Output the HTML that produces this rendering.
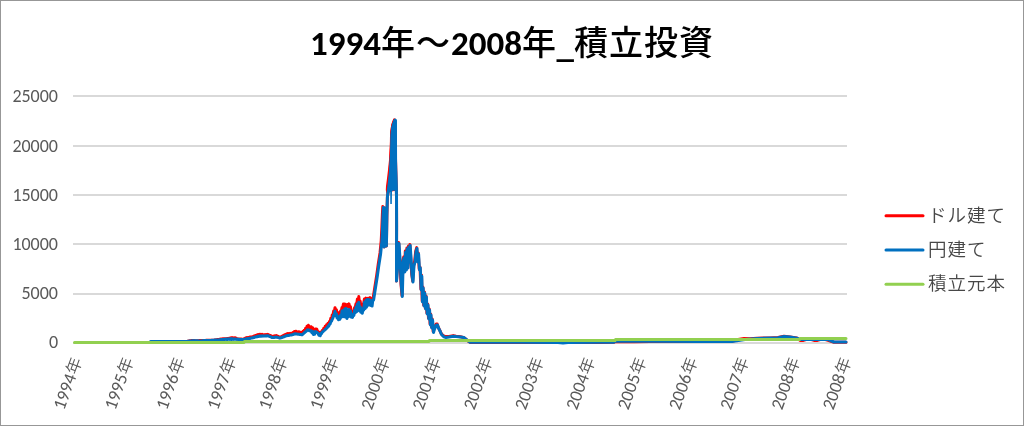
<!DOCTYPE html>
<html><head><meta charset="utf-8"><style>
html,body{margin:0;padding:0;background:#fff;}
body{width:1024px;height:426px;overflow:hidden;}
svg{display:block;}
.t{font-family:Carlito,"Liberation Sans","Noto Sans CJK JP",sans-serif;}
.ttl{font-weight:bold;font-size:35px;fill:#000;}
.yl{font-size:18px;fill:#595959;}
.xl{font-size:18px;fill:#595959;}
.lg{font-size:18px;fill:#595959;}
.cj{font-weight:500;font-size:34px;letter-spacing:1px;}
.xk{font-weight:350;font-size:16.5px;}
.lgt{font-family:"Noto Sans CJK JP",sans-serif;font-size:18.5px;letter-spacing:1px;font-weight:350;fill:#474747;}
</style></head><body>
<svg width="1024" height="426" viewBox="0 0 1024 426">
<rect x="0.5" y="0.5" width="1023" height="425" fill="#fff" stroke="#979797" stroke-width="1"/>
<text class="t ttl" x="512" y="55" text-anchor="middle">1994<tspan class="cj">年～</tspan>2008<tspan class="cj">年</tspan><tspan dy="1.5" dx="-0.5">_</tspan><tspan class="cj" dy="-1.5">積立投資</tspan></text>
<g stroke="#d9d9d9" stroke-width="2">
<line x1="73" y1="96" x2="847" y2="96"/>
<line x1="73" y1="146" x2="847" y2="146"/>
<line x1="73" y1="195" x2="847" y2="195"/>
<line x1="73" y1="244" x2="847" y2="244"/>
<line x1="73" y1="294" x2="847" y2="294"/>
<line x1="73" y1="343" x2="847" y2="343"/>
</g>
<!--LINES-->
<g fill="none" stroke-width="3.0" stroke-linejoin="round" stroke-linecap="round">
<polyline stroke="#ff0000" points="152.0,341.6 187.0,341.6 188.0,341.2 188.7,341.1 189.4,341.0 190.1,340.8 190.8,340.7 191.5,340.6 192.2,340.5 192.9,340.4 193.6,340.4 194.3,340.6 195.0,340.7 195.7,340.8 196.4,340.8 197.1,340.8 197.8,340.7 198.5,340.7 199.2,340.6 199.9,340.6 200.6,340.6 201.3,340.5 202.0,340.5 202.7,340.5 203.4,340.4 204.1,340.4 204.8,340.4 205.5,340.4 206.2,340.3 206.9,340.3 207.6,340.3 208.3,340.3 209.0,340.3 209.7,340.3 210.4,340.3 211.1,340.3 211.8,340.3 212.5,340.3 213.2,340.3 213.9,340.2 214.6,340.0 215.3,339.9 216.0,339.8 216.7,339.7 217.4,339.6 218.1,339.5 218.8,339.4 219.5,339.3 220.2,339.2 220.9,339.1 221.6,339.0 222.3,339.0 223.0,338.8 223.7,338.8 224.4,338.8 225.1,338.7 225.8,338.7 226.5,338.7 227.2,338.6 227.9,338.6 228.6,338.5 229.3,338.3 230.0,338.1 230.7,338.0 231.4,337.8 232.1,338.0 232.8,337.7 233.5,338.2 234.2,337.7 234.9,338.3 235.6,337.8 236.3,338.4 237.0,338.8 237.7,338.9 238.4,338.9 239.1,339.0 239.8,339.0 240.5,339.1 241.2,339.1 241.9,339.2 242.6,339.3 243.3,339.2 244.0,338.8 244.7,338.7 245.4,338.0 246.1,338.2 246.8,337.6 247.5,338.1 248.2,337.5 248.9,337.8 249.6,337.1 250.3,337.5 251.0,336.9 251.7,337.4 252.4,336.7 253.1,336.9 253.8,336.1 254.5,336.6 255.2,335.6 255.9,336.0 256.6,335.1 257.3,335.7 258.0,334.6 258.7,335.5 259.4,334.3 260.1,335.3 260.8,334.3 261.5,335.2 262.2,334.4 262.9,335.4 263.6,334.7 264.3,335.2 265.0,334.5 265.7,335.2 266.4,334.5 267.1,335.0 267.8,334.3 268.5,335.0 269.2,334.9 269.9,335.8 270.6,335.6 271.3,336.7 272.0,336.3 272.7,337.0 273.4,336.2 274.1,336.8 274.8,335.8 275.5,336.5 276.2,335.5 276.9,336.7 277.6,336.0 278.3,337.1 279.0,336.7 279.7,337.7 280.4,336.9 281.1,337.1 281.8,336.3 282.5,336.6 283.2,335.6 283.9,336.0 284.6,334.7 285.3,335.4 286.0,334.2 286.7,334.9 287.4,333.6 288.1,334.9 288.8,333.6 289.5,334.8 290.2,333.4 290.9,334.3 291.6,333.4 292.3,334.1 293.0,332.6 293.7,333.6 294.4,331.5 295.1,333.4 295.8,331.2 296.5,333.1 297.2,331.8 297.9,333.2 298.6,331.7 299.3,333.6 300.0,332.2 300.7,333.8 301.4,332.5 302.1,333.9 302.8,331.6 303.5,332.6 304.2,330.2 304.9,330.9 305.6,328.3 306.3,329.5 307.0,326.3 307.7,327.7 308.4,325.3 309.1,328.7 309.8,326.7 310.5,329.2 311.2,326.8 311.9,329.9 312.6,327.7 313.3,330.8 314.0,329.5 314.7,331.1 315.4,329.0 316.1,331.0 316.8,329.1 317.5,331.9 318.2,331.6 318.9,333.2 319.6,333.5 320.3,333.1 321.0,331.9 321.7,331.8 322.4,330.3 323.1,330.4 323.8,328.3 324.5,329.1 325.2,326.3 325.9,327.9 326.6,324.8 327.3,326.4 328.0,323.3 328.7,324.2 329.4,321.6 330.1,321.7 330.8,318.2 331.5,320.0 332.2,315.0 332.9,316.0 333.6,311.1 334.3,312.0 335.0,307.7 335.7,310.8 336.4,309.7 337.1,313.3 337.8,312.5 338.5,315.9 339.2,313.9 339.9,314.6 340.6,311.0 341.3,311.1 342.0,307.5 342.7,308.3 343.4,304.1 344.1,307.3 344.8,303.9 345.5,307.1 346.2,304.7 346.9,306.8 347.6,304.5 348.3,306.7 349.0,303.9 349.7,307.4 350.4,306.6 351.1,311.1 351.8,311.2 352.5,314.6 353.2,312.1 353.9,311.2 354.6,307.6 355.3,307.0 356.0,303.7 356.7,304.2 357.4,298.9 358.1,301.8 358.8,296.6 359.5,302.9 360.2,301.2 360.9,306.4 361.6,305.3 362.3,310.0 363.0,304.5 363.7,303.2 364.4,299.1 365.1,299.2 365.8,298.2 366.5,298.9 367.2,298.3 367.9,299.0 368.6,298.3 369.3,298.4 370.0,297.6 370.7,299.5 371.4,300.1 372.1,300.7 372.8,298.1 373.0,299.0 374.7,288.0 376.6,276.0 378.2,264.5 380.0,253.0 381.2,241.0 381.8,229.0 382.4,214.0 382.8,206.5 384.1,247.0 384.7,208.0 385.3,246.0 385.9,209.0 386.4,246.0 386.9,215.0 387.4,197.0 388.3,190.5 389.7,175.5 390.5,164.5 391.3,147.5 391.5,134.5 392.8,124.5 394.5,119.8 395.6,162.0 396.5,195.0 396.6,226.0 396.5,260.0 396.5,281.0 397.7,261.1 398.7,242.6 399.9,261.1 401.0,284.1 402.0,295.6 402.9,261.1 403.7,257.1 404.5,271.1 405.3,251.1 406.1,269.1 406.9,248.1 407.7,267.1 408.5,246.1 409.3,261.1 409.9,244.6 410.7,257.1 411.7,274.1 412.7,281.1 413.7,265.1 414.7,261.1 415.7,251.1 416.7,247.6 417.5,261.1 418.3,253.1 419.2,269.1 420.0,267.1 420.9,289.1 421.5,275.1 422.2,301.1 422.9,287.1 423.7,305.1 424.5,292.1 425.3,308.1 426.1,296.1 426.9,313.1 427.7,304.1 428.5,318.1 429.3,309.1 430.1,324.1 430.7,314.1 431.5,327.1 432.3,319.1 433.2,331.6 434.2,328.1 435.2,326.1 436.2,324.1 437.2,324.1 438.2,327.1 439.2,329.1 440.2,331.1 441.2,333.6 442.2,334.6 443.7,335.9 445.7,336.6 449.0,336.5 453.3,335.6 456.0,336.2 460.5,336.8 464.0,337.6 467.0,340.2 470.0,342.4 600.0,342.5 614.0,342.3 615.0,341.5 634.0,341.8 650.0,341.5 700.0,341.6 732.0,341.4 738.0,339.5 744.0,338.6 750.0,338.7 757.0,338.2 770.0,337.9 778.0,337.5 784.0,336.2 790.0,336.9 797.0,338.1 800.0,340.4 803.5,340.4 807.0,339.4 810.5,339.4 814.0,340.4 817.5,340.4 821.0,339.4 824.5,339.4 828.0,340.3 834.0,342.3 846.0,342.3"/>
<polygon fill="#ff0000" stroke="none" points="393.5,119.2 392.3,122.0 391.0,126.5 390.3,131.0 389.9,145.0 389.0,160.0 388.0,170.0 386.8,180.0 386.0,186.0 385.8,190.0 386.3,193.0 390.0,192.0 394.0,191.0 396.0,191.0 396.0,119.0"/>
<polyline stroke="#0070c0" points="150.5,341.4 187.0,341.4 188.0,341.2 188.7,341.2 189.4,341.1 190.1,341.1 190.8,341.0 191.5,341.0 192.2,340.8 192.9,341.0 193.6,340.7 194.3,341.0 195.0,340.7 195.7,341.0 196.4,340.8 197.1,341.0 197.8,340.8 198.5,341.0 199.2,340.9 199.9,341.0 200.6,340.9 201.3,340.9 202.0,340.8 202.7,340.8 203.4,340.7 204.1,340.6 204.8,340.6 205.5,340.6 206.2,340.6 206.9,340.6 207.6,340.6 208.3,340.5 209.0,340.5 209.7,340.5 210.4,340.5 211.1,340.4 211.8,340.3 212.5,340.2 213.2,340.2 213.9,340.2 214.6,340.1 215.3,340.1 216.0,340.1 216.7,340.1 217.4,340.0 218.1,339.9 218.8,339.9 219.5,339.8 220.2,339.7 220.9,339.7 221.6,339.6 222.3,339.6 223.0,339.4 223.7,339.5 224.4,339.3 225.1,339.4 225.8,339.1 226.5,339.4 227.2,339.0 227.9,339.4 228.6,338.9 229.3,339.4 230.0,338.8 230.7,339.4 231.4,338.7 232.1,339.4 232.8,338.8 233.5,339.4 234.2,338.9 234.9,339.3 235.6,338.9 236.3,339.4 237.0,339.1 237.7,339.4 238.4,339.3 239.1,339.5 239.8,339.4 240.5,339.5 241.2,339.5 241.9,339.6 242.6,339.6 243.3,339.6 244.0,339.4 244.7,339.2 245.4,339.1 246.1,339.0 246.8,338.7 247.5,338.8 248.2,338.5 248.9,338.5 249.6,338.3 250.3,338.4 251.0,338.1 251.7,338.1 252.4,337.8 253.1,337.8 253.8,337.3 254.5,337.4 255.2,336.9 255.9,337.0 256.6,336.6 257.3,336.7 258.0,336.2 258.7,336.4 259.4,336.0 260.1,336.2 260.8,336.0 261.5,336.2 262.2,335.9 262.9,336.2 263.6,335.9 264.3,336.1 265.0,335.9 265.7,336.0 266.4,335.8 267.1,335.9 267.8,335.7 268.5,336.0 269.2,336.2 269.9,336.6 270.6,336.8 271.3,337.2 272.0,337.5 272.7,337.6 273.4,337.5 274.1,337.4 274.8,337.3 275.5,337.2 276.2,337.1 276.9,337.2 277.6,337.4 278.3,337.6 279.0,337.8 279.7,338.0 280.4,337.9 281.1,337.7 281.8,337.5 282.5,337.3 283.2,336.9 283.9,336.9 284.6,336.3 285.3,336.3 286.0,335.7 286.7,335.7 287.4,335.5 288.1,335.5 288.8,335.4 289.5,335.2 290.2,335.1 290.9,335.0 291.6,334.9 292.3,334.7 293.0,334.5 293.7,334.2 294.4,334.0 295.1,333.8 295.8,333.9 296.5,334.0 297.2,334.1 297.9,334.2 298.6,334.3 299.3,334.3 300.0,334.5 300.7,334.6 301.4,334.7 302.1,334.8 302.8,334.2 303.5,333.6 304.2,332.8 304.9,332.4 305.6,331.4 306.3,331.4 307.0,330.1 307.7,330.2 308.4,329.8 309.1,330.7 309.8,330.3 310.5,331.2 311.2,330.9 311.9,332.7 312.6,331.7 313.3,334.5 314.0,331.9 314.7,334.2 315.4,331.6 316.1,332.0 316.8,332.2 317.5,332.8 318.2,333.6 318.9,335.3 319.6,334.9 320.3,335.6 321.0,333.2 321.7,333.5 322.4,331.9 323.1,331.6 323.8,330.7 324.5,330.3 325.2,329.5 325.9,329.0 326.6,328.2 327.3,327.6 328.0,326.1 328.7,326.2 329.4,324.4 330.1,324.0 330.8,321.9 331.5,321.1 332.2,319.4 332.9,318.0 333.6,315.1 334.3,314.8 335.0,311.3 335.7,315.7 336.4,313.8 337.1,317.9 337.8,316.3 338.5,319.8 339.2,317.0 339.9,319.2 340.6,315.0 341.3,317.3 342.0,311.1 342.7,316.6 343.4,310.6 344.1,316.8 344.8,309.0 345.5,317.1 346.2,308.4 346.9,318.5 347.6,310.6 348.3,316.8 349.0,309.5 349.7,316.1 350.4,310.9 351.1,317.0 351.8,314.4 352.5,317.4 353.2,314.0 353.9,315.4 354.6,310.3 355.3,312.9 356.0,306.9 356.7,311.6 357.4,304.0 358.1,309.1 358.8,302.2 359.5,310.9 360.2,306.7 360.9,312.2 361.6,309.9 362.3,313.3 363.0,308.5 363.7,310.2 364.4,302.3 365.1,308.6 365.8,300.4 366.5,307.2 367.2,299.5 367.9,305.2 368.6,299.6 369.3,305.0 370.0,299.9 370.7,305.4 371.4,302.1 372.1,306.1 372.8,300.0 373.6,300.0 375.3,289.0 377.2,277.0 378.8,265.5 380.6,254.0 381.8,242.0 382.4,230.0 383.0,215.0 383.4,207.5 384.1,247.0 384.7,208.0 385.3,246.0 385.9,209.0 386.4,246.0 386.9,215.0 387.4,197.0 388.3,190.5 390.2,176.0 391.0,165.0 391.8,148.0 392.0,135.0 393.3,125.0 395.0,120.3 395.4,121.0 395.6,162.0 396.5,195.0 396.6,226.0 396.5,260.0 396.5,281.0 398.0,262.0 399.0,243.5 400.2,262.0 401.3,285.0 402.3,296.5 403.2,262.0 404.0,258.0 404.8,272.0 405.6,252.0 406.4,270.0 407.2,249.0 408.0,268.0 408.8,247.0 409.6,262.0 410.2,245.5 411.0,258.0 412.0,275.0 413.0,282.0 414.0,266.0 415.0,262.0 416.0,252.0 417.0,248.5 417.8,262.0 418.6,254.0 419.5,270.0 420.3,268.0 421.2,290.0 421.8,276.0 422.5,302.0 423.2,288.0 424.0,306.0 424.8,293.0 425.6,309.0 426.4,297.0 427.2,314.0 428.0,305.0 428.8,319.0 429.6,310.0 430.4,325.0 431.0,315.0 431.8,328.0 432.6,320.0 433.5,332.5 434.5,329.0 435.5,327.0 436.5,325.0 437.5,325.0 438.5,328.0 439.5,330.0 440.5,332.0 441.5,334.5 442.5,335.5 444.0,336.8 446.0,337.5 449.0,337.0 453.3,336.2 456.0,336.6 460.5,337.0 464.0,337.6 467.0,340.0 470.0,342.2 480.0,342.3 520.0,342.3 558.0,342.4 563.0,343.0 568.0,342.4 600.0,342.3 614.0,342.2 615.0,341.3 650.0,341.3 700.0,341.4 720.0,341.6 732.0,341.4 745.0,339.6 757.0,338.4 770.0,338.1 778.0,337.8 784.0,336.4 790.0,337.0 797.0,338.2 800.0,339.6 815.0,339.5 828.0,339.6 834.0,342.0 846.0,342.0"/>
<polygon fill="#0070c0" stroke="none" points="394.0,119.5 393.0,122.0 391.5,126.5 390.8,131.0 390.4,145.0 389.7,160.0 389.0,172.0 388.3,184.0 387.6,189.0 386.8,192.0 386.8,197.0 388.2,197.0 389.4,192.0 390.2,192.0 390.3,204.0 391.8,204.0 392.0,191.0 394.3,190.5 395.5,192.0 397.6,192.0 397.4,185.0 396.8,162.0 396.8,120.0 396.2,119.0 395.2,118.6"/>
<polyline stroke="#92d050" points="74.5,342.4 244.0,342.4 244.5,341.5 429.0,341.5 429.5,340.6 615.0,340.6 615.5,339.5 799.6,339.5 800.1,338.6 846.0,338.6"/>
</g>
<!--/LINES-->
<g class="t yl" text-anchor="end">
<text x="58" y="102">25000</text>
<text x="58" y="151.5">20000</text>
<text x="58" y="201">15000</text>
<text x="58" y="249.6">10000</text>
<text x="58" y="298.8">5000</text>
<text x="58" y="348.3">0</text>
</g>
<g class="t xl" text-anchor="end">
<text transform="translate(82.5,360) rotate(-70)">1994<tspan class="xk" dx="1">年</tspan></text>
<text transform="translate(133.8,360) rotate(-70)">1995<tspan class="xk" dx="1">年</tspan></text>
<text transform="translate(185.1,360) rotate(-70)">1996<tspan class="xk" dx="1">年</tspan></text>
<text transform="translate(236.3,360) rotate(-70)">1997<tspan class="xk" dx="1">年</tspan></text>
<text transform="translate(287.6,360) rotate(-70)">1998<tspan class="xk" dx="1">年</tspan></text>
<text transform="translate(338.9,360) rotate(-70)">1999<tspan class="xk" dx="1">年</tspan></text>
<text transform="translate(390.2,360) rotate(-70)">2000<tspan class="xk" dx="1">年</tspan></text>
<text transform="translate(441.5,360) rotate(-70)">2001<tspan class="xk" dx="1">年</tspan></text>
<text transform="translate(492.7,360) rotate(-70)">2002<tspan class="xk" dx="1">年</tspan></text>
<text transform="translate(544.0,360) rotate(-70)">2003<tspan class="xk" dx="1">年</tspan></text>
<text transform="translate(595.3,360) rotate(-70)">2004<tspan class="xk" dx="1">年</tspan></text>
<text transform="translate(646.6,360) rotate(-70)">2005<tspan class="xk" dx="1">年</tspan></text>
<text transform="translate(697.9,360) rotate(-70)">2006<tspan class="xk" dx="1">年</tspan></text>
<text transform="translate(749.1,360) rotate(-70)">2007<tspan class="xk" dx="1">年</tspan></text>
<text transform="translate(800.4,360) rotate(-70)">2008<tspan class="xk" dx="1">年</tspan></text>
<text transform="translate(851.7,360) rotate(-70)">2008<tspan class="xk" dx="1">年</tspan></text>
</g>
<g stroke-width="3" stroke-linecap="round">
<line x1="886" y1="215.8" x2="923" y2="215.8" stroke="#ff0000"/>
<line x1="886" y1="249.9" x2="923" y2="249.9" stroke="#0070c0"/>
<line x1="886" y1="284.2" x2="923" y2="284.2" stroke="#92d050"/>
</g>
<g class="lgt">
<text x="928" y="222">ドル建て</text>
<text x="928" y="256">円建て</text>
<text x="928" y="290">積立元本</text>
</g>
</svg>
</body></html>
